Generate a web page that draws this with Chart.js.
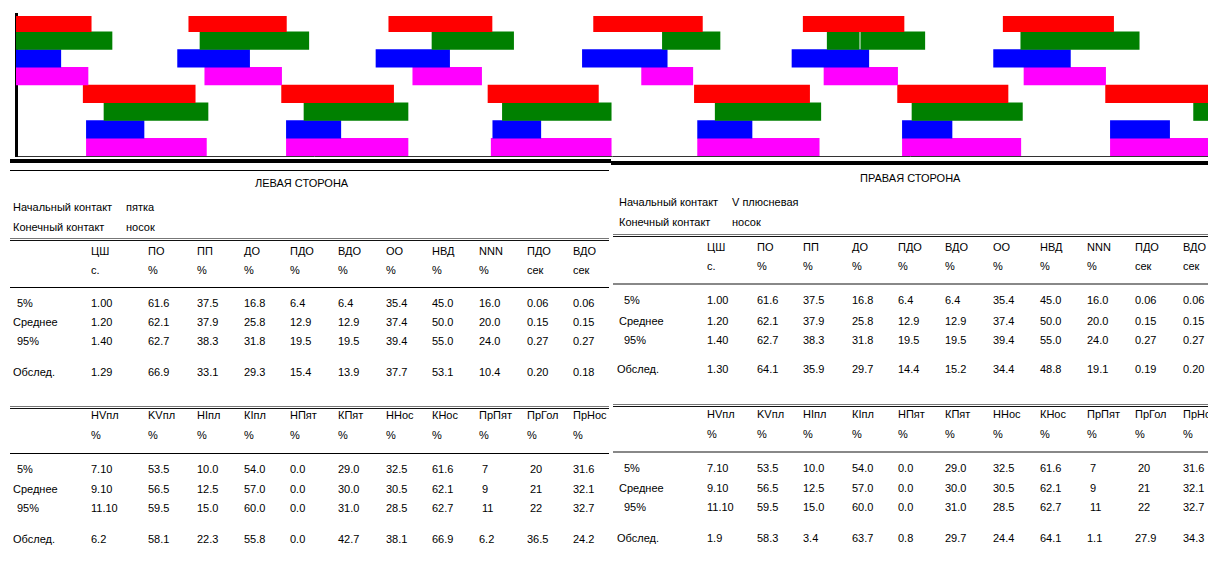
<!DOCTYPE html>
<html lang="ru">
<head>
<meta charset="utf-8">
<script src="https://cdn.jsdelivr.net/npm/chart.js@4.4.1/dist/chart.umd.min.js"></script>
<style>
  html, body { margin: 0; padding: 0; background: #fff; width: 1208px; height: 570px; overflow: hidden; }
  #gait { position: absolute; left: 0; top: 0; }
  .t { position: absolute; font: 11px "Liberation Sans", Arial, sans-serif; color: #000; white-space: nowrap; line-height: 14px; }
  .ln { position: absolute; }
</style>
</head>
<body>
<canvas id="gait" width="1208" height="158"></canvas>
<div id="sheet"></div>
<script>
// Support phases per row, seconds from the start of the recording [start, end]
const rowLabels = ['L-пятка', 'L-Vпл', 'L-Iпл', 'L-носок', 'R-пятка', 'R-Vпл', 'R-Iпл', 'R-носок'];
const rowColors = ['#ff0000', '#008000', '#0000ff', '#ff00ff', '#ff0000', '#008000', '#0000ff', '#ff00ff'];

const heelA = [[0, 0.47], [1.08, 1.69], [2.33, 2.975], [3.61, 4.29], [4.92, 5.55], [6.17, 6.86]];
const met5A = [[0, 0.60], [1.15, 1.83], [2.60, 3.11], [4.04, 4.40], [5.07, 5.27], [5.28, 5.68], [6.28, 7.02]];
const met1A = [[0, 0.28], [1.01, 1.46], [2.25, 2.71], [3.54, 4.07], [4.85, 5.33], [6.11, 6.59]];
const toeA  = [[0, 0.45], [1.18, 1.66], [2.48, 2.91], [3.91, 4.23], [5.05, 5.51], [6.30, 6.81]];
const heelB = [[0.42, 1.12], [1.66, 2.36], [2.95, 3.64], [4.24, 4.96], [5.51, 6.20], [6.81, 7.45]];
const met5B = [[0.55, 1.20], [1.80, 2.45], [3.04, 3.72], [4.37, 5.03], [5.60, 6.29], [7.36, 7.45]];
const met1B = [[0.44, 0.80], [1.69, 2.03], [2.98, 3.28], [4.26, 4.60], [5.54, 5.85], [6.84, 7.21]];
const toeB  = [[0.44, 1.19], [1.69, 2.45], [2.97, 3.72], [4.26, 5.02], [5.54, 6.28], [6.84, 7.45]];
const timeMax = 7.45;

// Table texts
const headTop   = ['ЦШ', 'ПО', 'ПП', 'ДО', 'ПДО', 'ВДО', 'ОО', 'НВД', 'NNN', 'ПДО', 'ВДО'];
const unitsTop  = ['с.', '%', '%', '%', '%', '%', '%', '%', '%', 'сек', 'сек'];
const headBot   = ['НVпл', 'KVпл', 'НIпл', 'КIпл', 'НПят', 'КПят', 'ННос', 'КНос', 'ПрПят', 'ПрГол', 'ПрНос'];
const unitsBot  = ['%', '%', '%', '%', '%', '%', '%', '%', '%', '%', '%'];
const normLabels = ['5%', 'Среднее', '95%'];
const obsLabel = 'Обслед.';

const top5   = ['1.00', '61.6', '37.5', '16.8', '6.4', '6.4', '35.4', '45.0', '16.0', '0.06', '0.06'];
const topAvg = ['1.20', '62.1', '37.9', '25.8', '12.9', '12.9', '37.4', '50.0', '20.0', '0.15', '0.15'];
const top95  = ['1.40', '62.7', '38.3', '31.8', '19.5', '19.5', '39.4', '55.0', '24.0', '0.27', '0.27'];
const bot5   = ['7.10', '53.5', '10.0', '54.0', '0.0', '29.0', '32.5', '61.6', '7', '20', '31.6'];
const botAvg = ['9.10', '56.5', '12.5', '57.0', '0.0', '30.0', '30.5', '62.1', '9', '21', '32.1'];
const bot95  = ['11.10', '59.5', '15.0', '60.0', '0.0', '31.0', '28.5', '62.7', '11', '22', '32.7'];

const leftObsTop  = ['1.29', '66.9', '33.1', '29.3', '15.4', '13.9', '37.7', '53.1', '10.4', '0.20', '0.18'];
const leftObsBot  = ['6.2', '58.1', '22.3', '55.8', '0.0', '42.7', '38.1', '66.9', '6.2', '36.5', '24.2'];
const rightObsTop = ['1.30', '64.1', '35.9', '29.7', '14.4', '15.2', '34.4', '48.8', '19.1', '0.19', '0.20'];
const rightObsBot = ['1.9', '58.3', '3.4', '63.7', '0.8', '29.7', '24.4', '64.1', '1.1', '27.9', '34.3'];

// ---- gait diagram ----
const rowSegments = [heelA, met5A, met1A, toeA, heelB, met5B, met1B, toeB];

new Chart(document.getElementById('gait'), {
  type: 'bar',
  data: {
    labels: rowLabels,
    datasets: rowSegments.map((segs, i) => ({
      label: rowLabels[i],
      data: segs.map(s => ({ y: rowLabels[i], x: s })),
      backgroundColor: rowColors[i],
      borderWidth: 0,
      barPercentage: 1,
      categoryPercentage: 1,
      grouped: false,
      clip: { left: 0, top: -2, right: 0, bottom: 0 }
    }))
  },
  options: {
    indexAxis: 'y',
    responsive: false,
    animation: false,
    devicePixelRatio: 1,
    layout: { padding: { left: 16, top: 14, right: 0, bottom: 2 } },
    plugins: { legend: { display: false }, tooltip: { enabled: false } },
    scales: {
      x: {
        min: 0, max: timeMax,
        grid: { display: false, drawTicks: false },
        ticks: { display: false },
        border: { display: true, color: '#333', width: 1 }
      },
      y: {
        grid: { display: false, drawTicks: false },
        ticks: { display: false },
        border: { display: true, color: '#000', width: 3 }
      }
    }
  }
});

// ---- parameter sheets ----
const sheet = document.getElementById('sheet');

function txt(x, y, s) {
  const d = document.createElement('div');
  d.className = 't';
  d.style.left = x + 'px';
  d.style.top = (y - 7) + 'px';
  d.textContent = s;
  sheet.appendChild(d);
}
function rule(x1, x2, y, h, color) {
  const d = document.createElement('div');
  d.className = 'ln';
  d.style.left = x1 + 'px';
  d.style.top = y + 'px';
  d.style.width = (x2 - x1) + 'px';
  d.style.height = h + 'px';
  d.style.background = color;
  sheet.appendChild(d);
}
function doubleRule(x1, x2, y) {
  rule(x1, x2, y, 1, '#777');
  rule(x1, x2, y + 2, 1, '#111');
}
function valueRow(cols, y, vals) {
  vals.forEach((v, i) => txt(cols[i] + (v.indexOf('.') < 0 ? 3 : 0), y, v));
}

function panel(p) {
  txt(p.titleX, p.y.title, p.title);
  txt(p.labelX, p.y.init, 'Начальный контакт');
  txt(p.valX, p.y.init, p.initContact);
  txt(p.labelX, p.y.end, 'Конечный контакт');
  txt(p.valX, p.y.end, 'носок');

  doubleRule(p.x1, p.x2, p.y.dbl);
  headTop.forEach((h, i) => txt(p.cols[i], p.y.h1, h));
  unitsTop.forEach((h, i) => txt(p.cols[i], p.y.h2, h));
  rule(p.x1, p.x2, p.y.rule, p.ruleH, p.ruleC);
  [top5, topAvg, top95].forEach((vals, r) => {
    txt(p.rowX[r], p.y.rows[r], normLabels[r]);
    valueRow(p.cols, p.y.rows[r], vals);
  });
  txt(p.obsX, p.y.obs, obsLabel);
  valueRow(p.cols, p.y.obs, p.obsTop);

  doubleRule(p.x1b, p.x2, p.y.dbl2);
  headBot.forEach((h, i) => txt(p.cols[i], p.y.bh1, h));
  unitsBot.forEach((h, i) => txt(p.cols[i], p.y.bh2, h));
  rule(p.x1b, p.x2, p.y.brule, p.ruleH, p.ruleC);
  [bot5, botAvg, bot95].forEach((vals, r) => {
    txt(p.rowX[r], p.y.brows[r], normLabels[r]);
    valueRow(p.cols, p.y.brows[r], vals);
  });
  txt(p.obsX, p.y.bobs, obsLabel);
  valueRow(p.cols, p.y.bobs, p.obsBot);
}

// heavy separators under the diagram
rule(10, 611, 159, 4, '#000');
rule(611, 1208, 161, 4, '#000');
rule(10, 609, 170, 1, '#000');

panel({
  title: 'ЛЕВАЯ СТОРОНА', titleX: 255, initContact: 'пятка',
  x1: 10, x1b: 10, x2: 609, labelX: 13, valX: 126,
  rowX: [17, 13, 17], obsX: 13, ruleH: 1, ruleC: '#000',
  cols: [91, 148, 197, 244, 290, 338, 386, 432, 479, 527, 573],
  obsTop: leftObsTop, obsBot: leftObsBot,
  y: { title: 183, init: 207, end: 227, dbl: 238, h1: 251, h2: 270, rule: 287,
       rows: [303, 322, 341], obs: 372, dbl2: 406, bh1: 415, bh2: 435, brule: 453,
       brows: [469, 489, 508], bobs: 539 }
});

panel({
  title: 'ПРАВАЯ СТОРОНА', titleX: 860, initContact: 'V плюсневая',
  x1: 613, x1b: 613, x2: 1208, labelX: 619, valX: 732,
  rowX: [624, 619, 624], obsX: 617, ruleH: 2, ruleC: '#888',
  cols: [707, 757, 803, 852, 898, 945, 993, 1040, 1087, 1135, 1183],
  obsTop: rightObsTop, obsBot: rightObsBot,
  y: { title: 178, init: 202, end: 222, dbl: 234, h1: 247, h2: 266, rule: 283,
       rows: [300, 321, 340], obs: 369, dbl2: 404, bh1: 414, bh2: 434, brule: 451,
       brows: [468, 488, 507], bobs: 538 }
});
</script>
</body>
</html>
